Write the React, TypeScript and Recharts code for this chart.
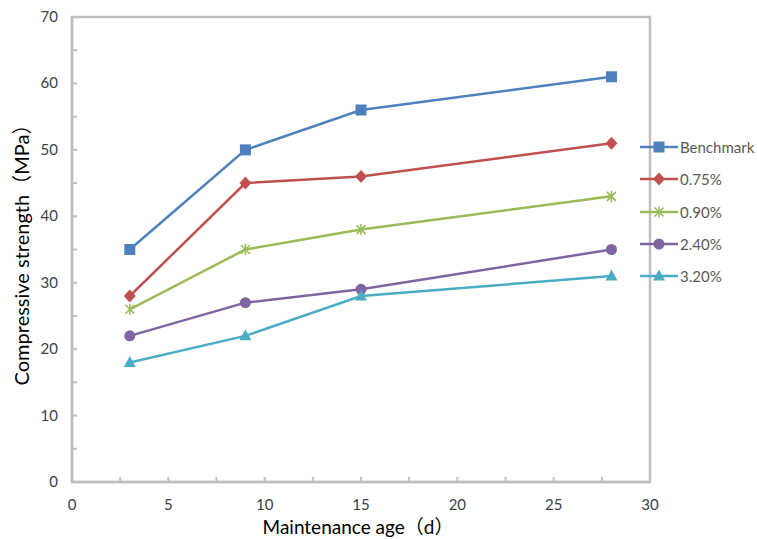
import React from 'react';
import { LineChart, Line, XAxis, YAxis, ReferenceArea } from 'recharts';

const ages = [3, 9, 15, 28];
const benchmark = [35, 50, 56, 61];
const dose075 = [28, 45, 46, 51];
const dose090 = [26, 35, 38, 43];
const dose240 = [22, 27, 29, 35];
const dose320 = [18, 22, 28, 31];

const xTicks = [0, 2.5, 5, 7.5, 10, 12.5, 15, 17.5, 20, 22.5, 25, 27.5, 30];
const yTicks = [0, 5, 10, 15, 20, 25, 30, 35, 40, 45, 50, 55, 60, 65, 70];

const SERIES = [
  { key: 'benchmark', name: 'Benchmark', color: '#4F81BD', shape: 'square' },
  { key: 'dose075', name: '0.75%', color: '#C0504D', shape: 'diamond' },
  { key: 'dose090', name: '0.90%', color: '#9BBB59', shape: 'star' },
  { key: 'dose240', name: '2.40%', color: '#8064A2', shape: 'circle' },
  { key: 'dose320', name: '3.20%', color: '#4BACC6', shape: 'triangle' },
];

const data = ages.map((age, i) => ({
  age,
  benchmark: benchmark[i],
  dose075: dose075[i],
  dose090: dose090[i],
  dose240: dose240[i],
  dose320: dose320[i],
}));

const AXIS = '#bfbfbf';
const FONT = 'Lato, "Noto Sans CJK SC", sans-serif';

const Marker = ({ cx, cy, color, shape }: any) => {
  if (cx == null || cy == null) return null;
  switch (shape) {
    case 'square':
      return <rect x={cx - 5.5} y={cy - 5.5} width={11} height={11} fill={color} />;
    case 'diamond':
      return <polygon points={`${cx},${cy - 6.5} ${cx + 6},${cy} ${cx},${cy + 6.5} ${cx - 6},${cy}`} fill={color} />;
    case 'star':
      return (
        <g stroke={color} strokeWidth={1.6}>
          <line x1={cx - 4.5} y1={cy - 4.5} x2={cx + 4.5} y2={cy + 4.5} />
          <line x1={cx - 4.5} y1={cy + 4.5} x2={cx + 4.5} y2={cy - 4.5} />
          <line x1={cx} y1={cy - 5.5} x2={cx} y2={cy + 5.5} />
        </g>
      );
    case 'circle':
      return <circle cx={cx} cy={cy} r={5.5} fill={color} />;
    case 'triangle':
      return <polygon points={`${cx},${cy - 6.5} ${cx + 6},${cy + 4.5} ${cx - 6},${cy + 4.5}`} fill={color} />;
    default:
      return null;
  }
};

const XTick = ({ x, y, payload }: any) => (
  <g>
    <line x1={x} y1={y} x2={x} y2={y - 5} stroke={AXIS} strokeWidth={2} />
    {payload.value % 5 === 0 && (
      <text x={x} y={y + 28} textAnchor="middle" fontSize={15} fill="#404040" fontFamily={FONT}>
        {payload.value}
      </text>
    )}
  </g>
);

const YTick = ({ x, y, payload }: any) => (
  <g>
    <line x1={x} y1={y} x2={x + 5} y2={y} stroke={AXIS} strokeWidth={2} />
    {payload.value % 10 === 0 && (
      <text x={x - 14} y={y + 5} textAnchor="end" fontSize={15} fill="#404040" fontFamily={FONT}>
        {payload.value}
      </text>
    )}
  </g>
);

// legend drawn beside the chart so it doesn't eat into the plot area
const LegendBox = () => (
  <div style={{ position: 'absolute', left: 640, top: 131, fontFamily: FONT }}>
    {SERIES.map((s) => (
      <div key={s.key} style={{ display: 'flex', alignItems: 'center', height: 32.3 }}>
        <svg width={40} height={20} style={{ display: 'block' }}>
          <line x1={0} y1={10} x2={38} y2={10} stroke={s.color} strokeWidth={2.5} />
          <Marker cx={19} cy={10} color={s.color} shape={s.shape} />
        </svg>
        <span style={{ fontSize: 15, color: '#595959', whiteSpace: 'nowrap' }}>{s.name}</span>
      </div>
    ))}
  </div>
);

export default function App() {
  return (
    <div style={{ position: 'absolute', left: 0, top: 0, width: 757, height: 539, background: '#fff', overflow: 'hidden' }}>
      <LineChart width={757} height={539} data={data} margin={{ top: 17, right: 107, bottom: 0, left: 0 }}>
        <XAxis
          type="number"
          dataKey="age"
          domain={[0, 30]}
          ticks={xTicks}
          interval={0}
          height={57}
          tickSize={0}
          tickMargin={0}
          tickLine={false}
          tick={<XTick />}
          axisLine={{ stroke: AXIS, strokeWidth: 2.5 }}
          label={{
            content: () => (
              <text x={358} y={534} textAnchor="middle" fontSize={19} fill="#000" fontFamily={FONT}>
                Maintenance age（d）
              </text>
            ),
          }}
        />
        <YAxis
          type="number"
          domain={[0, 70]}
          ticks={yTicks}
          interval={0}
          width={72}
          tickSize={0}
          tickMargin={0}
          tickLine={false}
          tick={<YTick />}
          axisLine={{ stroke: AXIS, strokeWidth: 2.5 }}
          label={{
            content: () => (
              <text x={29} y={250} transform="rotate(-90 29 250)" textAnchor="middle" fontSize={20} fill="#000" fontFamily={FONT}>
                Compressive strength（MPa）
              </text>
            ),
          }}
        />
        <ReferenceArea x1={0} x2={30} y1={0} y2={70} fill="none" stroke={AXIS} strokeWidth={2.5} />
        {SERIES.map((s) => (
          <Line
            key={s.key}
            type="linear"
            dataKey={s.key}
            name={s.name}
            stroke={s.color}
            strokeWidth={2.5}
            dot={(p: any) => <Marker key={`${s.key}-${p.index}`} cx={p.cx} cy={p.cy} color={s.color} shape={s.shape} />}
            activeDot={false}
            isAnimationActive={false}
          />
        ))}
      </LineChart>
      <LegendBox />
    </div>
  );
}
